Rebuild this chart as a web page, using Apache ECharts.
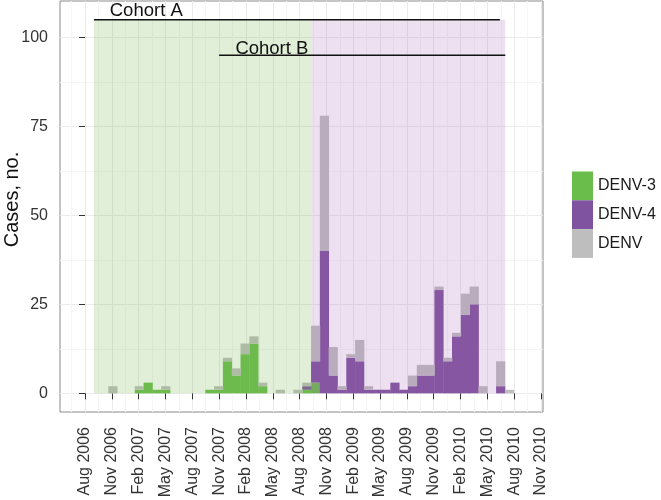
<!DOCTYPE html>
<html><head><meta charset="utf-8">
<script src="https://cdn.jsdelivr.net/npm/echarts@6/dist/echarts.min.js"></script>
<style>html,body{margin:0;padding:0;background:#fff}#c{width:661px;height:500px}</style>
</head><body><div id="c"></div>
<script>
// x axis unit: months since 1 Aug 2006
const tickLabels = ['Aug 2006','Nov 2006','Feb 2007','May 2007','Aug 2007','Nov 2007','Feb 2008','May 2008','Aug 2008','Nov 2008','Feb 2009','May 2009','Aug 2009','Nov 2009','Feb 2010','May 2010','Aug 2010','Nov 2010'];
const tickMonths = [0,3,6,9,12,15,18,21,24,27,30,33,36,39,42,45,48,51];
const minorMonths = [-1.5,1.5,4.5,7.5,10.5,13.5,16.5,19.5,22.5,25.5,28.5,31.5,34.5,37.5,40.5,43.5,46.5,49.5];
const yTicks = [0,25,50,75,100];
const yMinor = [12.5,37.5,62.5,87.5];

// 30-day reporting periods, first one centred 5 days after 1 Aug 2006
const firstPeriodDay = 5;
const periodDays = 30;
const daysPerMonth = 30.4375;

const denv3 = [0,0,0,0,0,0,1,3,1,1,0,0,0,0,1,1,9,5,11,14,2,0,0,0,0,1,3,0,0,0,0,0,0,0,0,0,0,0,0,0,0,0,0,0,0,0,0,0,0];
const denv4 = [0,0,0,0,0,0,0,0,0,0,0,0,0,0,0,0,0,0,0,0,0,0,0,0,0,1,6,40,5,1,10,9,1,1,1,3,1,2,5,5,29,9,16,22,25,0,0,2,0];
const denv  = [0,0,0,2,0,0,1,0,0,1,0,0,0,0,0,1,1,2,3,2,1,0,1,0,1,1,10,38,8,1,1,6,1,0,0,0,0,3,3,3,1,1,1,6,5,2,0,7,1];

const seriesNames = ['DENV-3','DENV-4','DENV'];
const seriesColors = ['#6abd4b','#7f539f','#bebebe'];

// Serotype eras (months since Aug 2006)
const eraStart = [1, 25.4];
const eraEnd = [25.4, 47];
const eraBottom = 0, eraTop = 105;
const eraColors = ['rgba(120,180,80,0.22)','rgba(165,100,180,0.2)'];

// Cohort follow-up lines
const cohortNames = ['Cohort A','Cohort B'];
const cohortStart = [1, 15];
const cohortEnd = [46.4, 47];
const cohortY = [105, 95];
const cohortLabelX = [6.85, 20.9];
const cohortLabelY = [107.6, 96.9];

const periodX = k => (firstPeriodDay + periodDays * k) / daysPerMonth;
const FONT = '"Liberation Sans", Arial, Helvetica, sans-serif';
const X_MIN = -2.796, X_MAX = 51.22;
const Y_MIN = -5.25, Y_MAX = 110.25;

const chart = echarts.init(document.getElementById('c'), null, {renderer: 'canvas'});

const stacks = [denv3, denv4, denv];
function barSeries(i) {
  const data = stacks[i].map((v, k) => {
    let base = 0;
    for (let j = 0; j < i; j++) base += stacks[j][k];
    return [periodX(k), base, base + v];
  }).filter(d => d[2] > d[1]);
  return {
    name: seriesNames[i], type: 'custom', z: 2, silent: true,
    itemStyle: {color: seriesColors[i]},
    data: data,
    encode: {x: 0, y: [1, 2]},
    renderItem: (params, api) => {
      const w = api.size([periodDays / daysPerMonth, 0])[0];
      const p0 = api.coord([api.value(0), api.value(2)]);
      const p1 = api.coord([api.value(0), api.value(1)]);
      return {type: 'rect', shape: {x: p0[0] - w / 2 - 0.2, y: p0[1], width: w + 0.4, height: p1[1] - p0[1]},
        style: {fill: seriesColors[i]}};
    }
  };
}

const option = {
  animation: false,
  textStyle: {fontFamily: FONT},
  grid: {left: 60, right: 118, top: 1, bottom: 88, show: true, borderColor: '#8a8a8a', borderWidth: 1,
    backgroundColor: '#fff', outerBoundsMode: 'none', containLabel: false},
  legend: {
    data: seriesNames.map(n => ({name: n, icon: 'rect'})),
    orient: 'vertical', left: 567, top: 166.5,
    itemWidth: 21, itemHeight: 28.8, itemGap: 0,
    textStyle: {fontSize: 16, color: '#1a1a1a', fontFamily: FONT},
    selectedMode: false
  },
  xAxis: [{
    type: 'value', min: X_MIN, max: X_MAX,
    axisLine: {show: false},
    axisTick: {show: true, length: 6, customValues: tickMonths, lineStyle: {color: '#333', width: 1}},
    axisLabel: {customValues: tickMonths, rotate: 90, margin: 15, fontSize: 16, color: '#333', fontFamily: FONT,
      formatter: v => tickLabels[Math.round(v / 3)]},
    splitLine: {show: true, lineStyle: {color: '#ebebeb', width: 1}}
  }, {
    type: 'value', min: X_MIN, max: X_MAX,
    axisLine: {show: false},
    axisTick: {show: false, customValues: minorMonths},
    axisLabel: {show: false, customValues: minorMonths},
    splitLine: {show: true, lineStyle: {color: '#f5f5f5', width: 1}}
  }],
  yAxis: [{
    type: 'value', min: Y_MIN, max: Y_MAX,
    axisLine: {show: false},
    axisTick: {show: true, length: 6, customValues: yTicks, lineStyle: {color: '#333', width: 1}},
    axisLabel: {customValues: yTicks, margin: 12, fontSize: 16, color: '#333', fontFamily: FONT},
    splitLine: {show: true, lineStyle: {color: '#ebebeb', width: 1}},
    name: 'Cases, no.', nameLocation: 'middle', nameGap: 38, nameMoveOverlap: false,
    nameTextStyle: {fontSize: 20, color: '#111', fontFamily: FONT, padding: [0, 0, 0, 14]}
  }, {
    type: 'value', min: Y_MIN, max: Y_MAX,
    axisLine: {show: false},
    axisTick: {show: false, customValues: yMinor},
    axisLabel: {show: false, customValues: yMinor},
    splitLine: {show: true, lineStyle: {color: '#f5f5f5', width: 1}}
  }],
  series: [
    barSeries(0),
    barSeries(1),
    barSeries(2),
    {
      type: 'custom', name: 'eras', z: 3, silent: true,
      data: eraStart.map((s, i) => [s, eraEnd[i], eraBottom, eraTop]),
      encode: {x: [0, 1], y: [2, 3]},
      renderItem: (params, api) => {
        const p0 = api.coord([api.value(0), api.value(3)]);
        const p1 = api.coord([api.value(1), api.value(2)]);
        return {type: 'rect', shape: {x: p0[0], y: p0[1], width: p1[0] - p0[0], height: p1[1] - p0[1]},
          style: {fill: eraColors[params.dataIndex]}};
      }
    },
    {
      type: 'custom', name: 'cohorts', z: 4, silent: true,
      data: cohortStart.map((s, i) => [s, cohortEnd[i], cohortY[i], cohortLabelX[i], cohortLabelY[i]]),
      encode: {x: [0, 1], y: [2]},
      renderItem: (params, api) => {
        const a = api.coord([api.value(0), api.value(2)]);
        const b = api.coord([api.value(1), api.value(2)]);
        const t = api.coord([api.value(3), api.value(4)]);
        return {type: 'group', children: [
          {type: 'line', shape: {x1: a[0], y1: a[1], x2: b[0], y2: b[1]}, style: {stroke: '#111', lineWidth: 1.6}},
          {type: 'text', x: t[0], y: t[1], style: {text: cohortNames[params.dataIndex], fill: '#111',
            font: '18.5px ' + FONT, align: 'center', verticalAlign: 'middle'}}
        ]};
      }
    }
  ]
};
chart.setOption(option);
</script>
</body></html>
